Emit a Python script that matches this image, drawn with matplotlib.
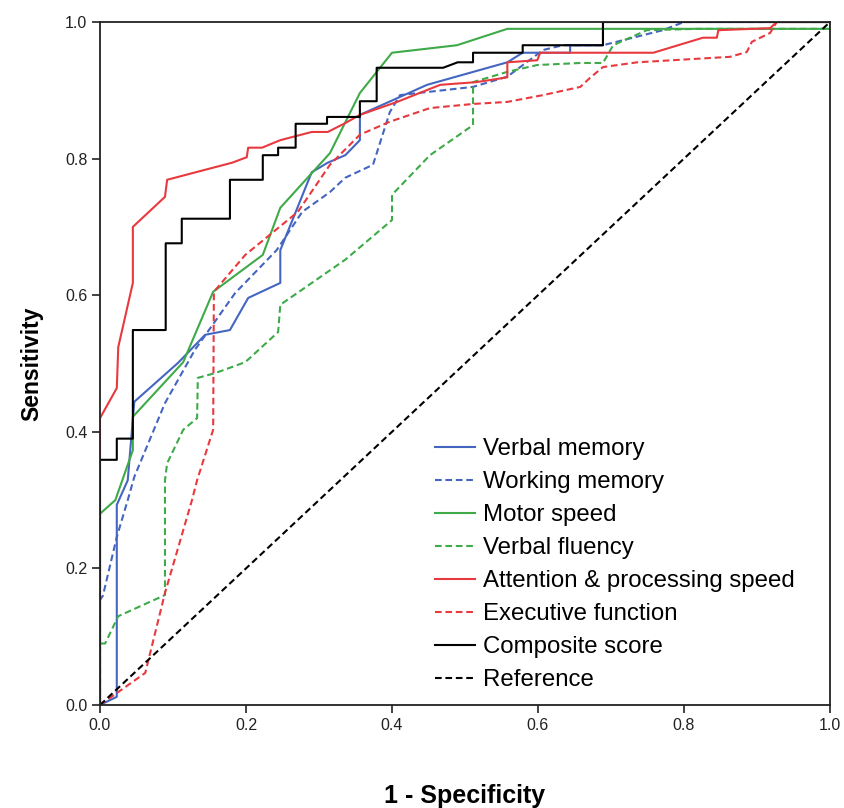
import matplotlib
matplotlib.use("Agg")
import matplotlib.pyplot as plt

# ---- data (1 - specificity, sensitivity) ----
verbal_memory_x = [0.0, 0.023, 0.023, 0.038, 0.047, 0.107, 0.144, 0.178, 0.203, 0.247, 0.247, 0.290, 0.312, 0.336, 0.356, 0.356, 0.448, 0.558, 0.579, 0.644, 0.644, 0.689, 0.689, 1.0]
verbal_memory_y = [0.0, 0.012, 0.293, 0.329, 0.444, 0.501, 0.542, 0.549, 0.596, 0.618, 0.666, 0.780, 0.794, 0.805, 0.827, 0.864, 0.908, 0.941, 0.955, 0.955, 0.966, 0.966, 1.0, 1.0]

working_memory_x = [0.0, 0.0, 0.004, 0.023, 0.038, 0.047, 0.089, 0.130, 0.185, 0.242, 0.277, 0.315, 0.336, 0.374, 0.397, 0.411, 0.511, 0.558, 0.607, 0.634, 0.689, 0.771, 0.80, 1.0]
working_memory_y = [0.0, 0.154, 0.16, 0.246, 0.30, 0.334, 0.442, 0.520, 0.603, 0.666, 0.722, 0.751, 0.772, 0.791, 0.868, 0.893, 0.905, 0.92, 0.959, 0.966, 0.966, 0.988, 1.0, 1.0]

motor_speed_x = [0.0, 0.0, 0.021, 0.045, 0.045, 0.114, 0.155, 0.223, 0.247, 0.315, 0.356, 0.400, 0.489, 0.558, 1.0, 1.0]
motor_speed_y = [0.0, 0.28, 0.30, 0.373, 0.422, 0.502, 0.605, 0.659, 0.728, 0.808, 0.896, 0.955, 0.966, 0.990, 0.990, 1.0]

verbal_fluency_x = [0.0, 0.0, 0.007, 0.025, 0.089, 0.089, 0.092, 0.114, 0.133, 0.134, 0.158, 0.199, 0.244, 0.247, 0.336, 0.400, 0.400, 0.452, 0.511, 0.511, 0.558, 0.599, 0.658, 0.689, 0.703, 0.749, 0.82, 1.0, 1.0]
verbal_fluency_y = [0.0, 0.09, 0.09, 0.130, 0.161, 0.329, 0.354, 0.403, 0.420, 0.479, 0.486, 0.502, 0.546, 0.586, 0.652, 0.710, 0.747, 0.805, 0.849, 0.912, 0.927, 0.937, 0.940, 0.940, 0.966, 0.988, 0.99, 0.99, 1.0]

attention_x = [0.0, 0.0, 0.023, 0.025, 0.045, 0.045, 0.089, 0.092, 0.181, 0.201, 0.203, 0.222, 0.247, 0.290, 0.312, 0.336, 0.356, 0.407, 0.466, 0.516, 0.558, 0.558, 0.599, 0.603, 0.758, 0.826, 0.845, 0.847, 0.918, 0.927, 1.0]
attention_y = [0.0, 0.42, 0.464, 0.524, 0.618, 0.700, 0.744, 0.769, 0.794, 0.802, 0.816, 0.816, 0.827, 0.839, 0.839, 0.852, 0.864, 0.883, 0.908, 0.912, 0.919, 0.941, 0.944, 0.955, 0.955, 0.977, 0.977, 0.988, 0.991, 1.0, 1.0]

executive_x = [0.0, 0.062, 0.089, 0.126, 0.133, 0.155, 0.156, 0.199, 0.223, 0.271, 0.315, 0.356, 0.397, 0.452, 0.511, 0.558, 0.607, 0.658, 0.671, 0.689, 0.736, 0.863, 0.886, 0.893, 0.918, 0.927, 1.0]
executive_y = [0.0, 0.047, 0.164, 0.300, 0.329, 0.403, 0.605, 0.659, 0.680, 0.722, 0.791, 0.835, 0.854, 0.874, 0.880, 0.883, 0.893, 0.905, 0.918, 0.934, 0.941, 0.949, 0.956, 0.971, 0.984, 1.0, 1.0]

composite_x = [0.0, 0.0, 0.023, 0.023, 0.045, 0.045, 0.090, 0.090, 0.112, 0.112, 0.178, 0.178, 0.223, 0.223, 0.244, 0.244, 0.268, 0.268, 0.311, 0.311, 0.356, 0.356, 0.379, 0.379, 0.470, 0.490, 0.511, 0.511, 0.579, 0.579, 0.689, 0.689, 1.0]
composite_y = [0.0, 0.359, 0.359, 0.390, 0.390, 0.549, 0.549, 0.676, 0.676, 0.712, 0.712, 0.769, 0.769, 0.805, 0.805, 0.816, 0.816, 0.851, 0.851, 0.861, 0.861, 0.884, 0.884, 0.933, 0.933, 0.941, 0.941, 0.955, 0.955, 0.966, 0.966, 1.0, 1.0]

reference_x = [0.0, 1.0]
reference_y = [0.0, 1.0]

labels = ["Verbal memory", "Working memory", "Motor speed", "Verbal fluency",
          "Attention & processing speed", "Executive function", "Composite score", "Reference"]
x_ticks = [0.0, 0.2, 0.4, 0.6, 0.8, 1.0]
y_ticks = [0.0, 0.2, 0.4, 0.6, 0.8, 1.0]

BLUE = "#4466c0"
GREEN = "#3eaa48"
RED = "#e8393e"
BLACK = "#000000"

plt.rcParams['font.family'] = ['Liberation Sans', 'DejaVu Sans']

fig = plt.figure(figsize=(8.45, 8.08), dpi=100)
ax = fig.add_axes([100/845, 103/808, 730/845, 683/808])

dash = (0, (3.2, 1.8))
lw = 1.5
series = [
    (verbal_memory_x, verbal_memory_y, BLUE, '-'),
    (working_memory_x, working_memory_y, BLUE, dash),
    (motor_speed_x, motor_speed_y, GREEN, '-'),
    (verbal_fluency_x, verbal_fluency_y, GREEN, dash),
    (attention_x, attention_y, RED, '-'),
    (executive_x, executive_y, RED, dash),
    (composite_x, composite_y, BLACK, '-'),
    (reference_x, reference_y, BLACK, dash),
]
handles = []
for (xs, ys, c, ls), lab in zip(series, labels):
    h, = ax.plot(xs, ys, color=c, linestyle=ls, linewidth=lw, label=lab)
    handles.append(h)

ax.set_xlim(0, 1)
ax.set_ylim(0, 1)
ax.set_xticks(x_ticks)
ax.set_yticks(y_ticks)
ax.set_xticklabels([f"{t:.1f}" for t in x_ticks])
ax.set_yticklabels([f"{t:.1f}" for t in y_ticks])
ax.tick_params(direction='out', length=6, width=1.2, labelsize=11.5, colors='#222222', pad=3)
for s in ax.spines.values():
    s.set_linewidth(1.3)
    s.set_color('#222222')

ax.set_xlabel("1 - Specificity", fontsize=18, fontweight='bold', labelpad=37)
ax.set_ylabel("Sensitivity", fontsize=16.5, fontweight='bold', labelpad=16)

leg = ax.legend(handles=handles, loc='upper left', bbox_to_anchor=(0.459, 0.391),
                frameon=False, fontsize=17.3, handlelength=1.67, handletextpad=0.33,
                labelspacing=0.46, borderaxespad=0, borderpad=0)

fig.savefig("out.png", dpi=100)
